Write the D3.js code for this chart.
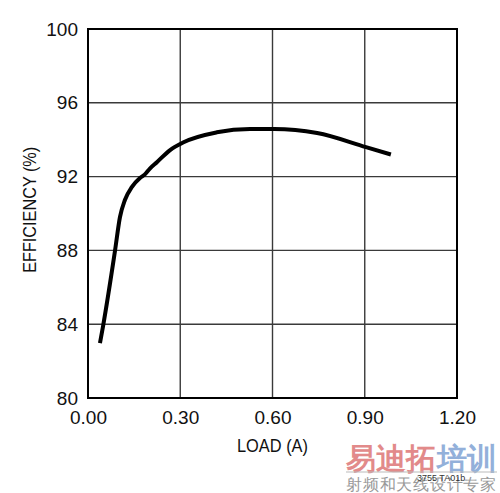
<!DOCTYPE html>
<html>
<head>
<meta charset="utf-8">
<script src="https://cdn.jsdelivr.net/npm/d3@7"></script>
<style>
body { margin: 0; background: #fff; }
text { font-family: "Liberation Sans Narrow", "Arial Narrow", "Liberation Sans", sans-serif; }
</style>
</head>
<body>
<svg width="500" height="493"></svg>
<script>
var loadA = [0.039, 0.049, 0.088, 0.104, 0.12, 0.143, 0.169, 0.185, 0.202, 0.224, 0.267, 0.309, 0.419, 0.527, 0.605, 0.745, 0.904, 0.985];
var efficiency = [82.98, 83.9, 88.0, 89.81, 90.73, 91.44, 91.92, 92.12, 92.45, 92.78, 93.44, 93.85, 94.4, 94.58, 94.58, 94.36, 93.6, 93.2];
var xTicks = [0, 0.3, 0.6, 0.9, 1.2];
var yTicks = [80, 84, 88, 92, 96, 100];

var svg = d3.select("svg"),
margin = {top: 29, left: 88},
width = 369,
height = 369,
g = svg.append("g").attr("transform", "translate(" + margin.left + "," + margin.top + ")");

var x = d3.scaleLinear().domain([0, 1.2]).range([0, width]);
var y = d3.scaleLinear().domain([80, 100]).range([height, 0]);

// grid
g.append("g")
.selectAll("line")
.data(xTicks.slice(1, -1))
.enter().append("line")
.attr("x1", function(d) { return x(d); })
.attr("x2", function(d) { return x(d); })
.attr("y1", 0)
.attr("y2", height)
.attr("stroke", "#3a3a3a")
.attr("stroke-width", 1.4);

g.append("g")
.selectAll("line")
.data(yTicks.slice(1, -1))
.enter().append("line")
.attr("x1", 0)
.attr("x2", width)
.attr("y1", function(d) { return y(d); })
.attr("y2", function(d) { return y(d); })
.attr("stroke", "#3a3a3a")
.attr("stroke-width", 1.4);

g.append("rect")
.attr("width", width)
.attr("height", height)
.attr("fill", "none")
.attr("stroke", "#000")
.attr("stroke-width", 2);

// axes (labels only)
var xAxis = g.append("g")
.attr("transform", "translate(0," + height + ")")
.call(d3.axisBottom(x).tickValues(xTicks).tickFormat(d3.format(".2f")).tickSize(0).tickPadding(13));
xAxis.select(".domain").remove();
xAxis.selectAll("text").attr("font-size", 19).attr("fill", "#111")
.attr("font-family", "\"Liberation Sans Narrow\", \"Liberation Sans\", sans-serif");

var yAxis = g.append("g")
.call(d3.axisLeft(y).tickValues(yTicks).tickSize(0).tickPadding(10));
yAxis.select(".domain").remove();
yAxis.selectAll("text").attr("font-size", 19).attr("fill", "#111")
.attr("font-family", "\"Liberation Sans Narrow\", \"Liberation Sans\", sans-serif");

svg.append("text")
.attr("x", margin.left + x(0.6))
.attr("y", 452)
.attr("text-anchor", "middle")
.attr("font-size", 19)
.attr("fill", "#111")
.attr("textLength", 71)
.attr("lengthAdjust", "spacingAndGlyphs")
.text("LOAD (A)");

svg.append("text")
.attr("transform", "translate(36," + (margin.top + y(90.2)) + ") rotate(-90)")
.attr("text-anchor", "middle")
.attr("font-size", 19)
.attr("fill", "#111")
.attr("textLength", 126)
.attr("lengthAdjust", "spacingAndGlyphs")
.text("EFFICIENCY (%)");

var line = d3.line()
.x(function(d, i) { return x(loadA[i]); })
.y(function(d) { return y(d); })
.curve(d3.curveMonotoneX);

g.append("path")
.datum(efficiency)
.attr("fill", "none")
.attr("stroke", "#000")
.attr("stroke-width", 4)
.attr("stroke-linecap", "butt")
.attr("d", line);

// watermark
var wm = svg.append("g");
wm.append("text")
.attr("x", 346).attr("y", 469)
.attr("font-size", 30).attr("font-weight", "bold")
.attr("font-family", "\"Noto Sans CJK SC\", sans-serif")
.attr("fill", "#e28a8a")
.text("易迪拓");
wm.append("text")
.attr("x", 437).attr("y", 469)
.attr("font-size", 30).attr("font-weight", "bold")
.attr("font-family", "\"Noto Sans CJK SC\", sans-serif")
.attr("fill", "#93b0da")
.text("培训");
wm.append("line")
.attr("x1", 346).attr("x2", 497).attr("y1", 472).attr("y2", 472)
.attr("stroke", "#bbb").attr("stroke-width", 1);
wm.append("text")
.attr("x", 346).attr("y", 490)
.attr("font-size", 16)
.attr("font-family", "\"Noto Sans CJK SC\", sans-serif")
.attr("fill", "#999")
.attr("textLength", 150)
.attr("lengthAdjust", "spacing")
.text("射频和天线设计专家");
svg.append("text")
.attr("x", 417).attr("y", 481)
.attr("font-size", 9)
.attr("fill", "#333")
.text("3755 TA01b");
</script>
</body>
</html>
